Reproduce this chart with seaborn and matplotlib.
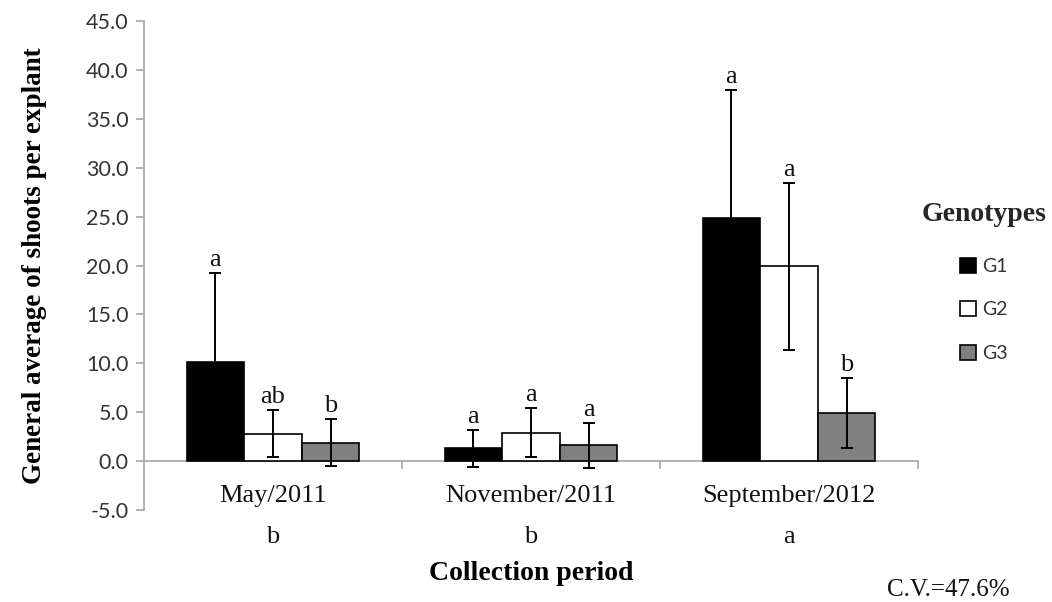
import numpy as np
import pandas as pd
import matplotlib
matplotlib.use("Agg")
import matplotlib.pyplot as plt
import seaborn as sns

# ---- data ----
periods = ["May/2011", "November/2011", "September/2012"]
genotypes = ["G1", "G2", "G3"]
g1_mean = [10.1, 1.3, 24.9]
g2_mean = [2.8, 2.9, 19.9]
g3_mean = [1.9, 1.6, 4.9]
g1_sd = [9.1, 1.9, 13.0]
g2_sd = [2.4, 2.5, 8.5]
g3_sd = [2.4, 2.3, 3.6]
g1_letters = ["a", "a", "a"]
g2_letters = ["ab", "a", "a"]
g3_letters = ["b", "a", "b"]
period_letters = ["b", "b", "a"]
cv_text = "C.V.=47.6%"
yticks = [-5, 0, 5, 10, 15, 20, 25, 30, 35, 40, 45]

means = {"G1": g1_mean, "G2": g2_mean, "G3": g3_mean}
sds = {"G1": g1_sd, "G2": g2_sd, "G3": g3_sd}
letters = {"G1": g1_letters, "G2": g2_letters, "G3": g3_letters}

rows = []
for g in genotypes:
    for p, m in zip(periods, means[g]):
        rows.append({"period": p, "genotype": g, "value": m})
df = pd.DataFrame(rows)

SERIF = "Liberation Serif"
SANS = "Lato"
GRAY = "#a6a6a6"

sns.set_theme(style="white")
plt.rcParams["font.family"] = [SERIF, "DejaVu Serif"]

fig = plt.figure(figsize=(10.52, 6.02), dpi=100)
ax = fig.add_axes([144 / 1052, 1 - 510 / 602, (918 - 144) / 1052, (510 - 21) / 602])

palette = {"G1": "black", "G2": "white", "G3": "#808080"}
sns.barplot(data=df, x="period", y="value", hue="genotype", order=periods,
            hue_order=genotypes, palette=palette, edgecolor="black",
            linewidth=1.2, width=0.67, errorbar=None, ax=ax, zorder=3)

bar_containers = list(ax.containers)

# error bars and letters
for g, cont in zip(genotypes, bar_containers):
    for bar, m, s, lt in zip(cont.patches, means[g], sds[g], letters[g]):
        xc = bar.get_x() + bar.get_width() / 2
        ax.errorbar(xc, m, yerr=s, fmt="none", ecolor="black", elinewidth=1.4,
                    capsize=4.5, capthick=1.4, zorder=4)
        ax.annotate(lt, (xc, m + s), xytext=(0, 1.5), textcoords="offset points",
                    ha="center", va="bottom", fontsize=19, family=SERIF, color="#111111")

ax.set_xlim(-0.5, 2.5)
ax.set_ylim(-5, 45)
ax.set_yticks(yticks)
ax.set_yticklabels([f"{v:.1f}" for v in yticks], family=SANS, fontsize=15.5, color="#333333")

for sp in ["top", "right"]:
    ax.spines[sp].set_visible(False)
ax.spines["left"].set_color(GRAY)
ax.spines["left"].set_linewidth(1.2)
ax.spines["bottom"].set_position(("data", 0))
ax.spines["bottom"].set_color(GRAY)
ax.spines["bottom"].set_linewidth(1.2)
ax.spines["bottom"].set_zorder(2)

ax.tick_params(axis="y", which="major", direction="out", length=6, width=1.2,
               color=GRAY, left=True, pad=5)
ax.set_xticks(range(len(periods)))
ax.set_xticklabels(periods, family=SERIF, fontsize=19, color="#111111")
ax.tick_params(axis="x", which="major", length=0, pad=17, bottom=True)
ax.set_xticks([0.5, 1.5, 2.5], minor=True)
ax.tick_params(axis="x", which="minor", direction="out", length=6, width=1.2,
               color=GRAY, bottom=True)

# letters under periods
trans = ax.get_xaxis_transform()
for i, lt in enumerate(period_letters):
    ax.text(i, -0.055, lt, transform=trans, ha="center", va="center",
            fontsize=19, family=SERIF, color="#111111")

ax.set_xlabel("Collection period", fontsize=20, fontweight="bold", family=SERIF,
              va="center", color="black")
ax.xaxis.set_label_coords(0.5, -0.129)
ax.set_ylabel("General average of shoots per explant", fontsize=19.5,
              fontweight="bold", family=SERIF, va="center", color="black")
ax.yaxis.set_label_coords(-0.141, 0.5)

# legend
if ax.get_legend() is not None:
    ax.get_legend().remove()
handles = [c.patches[0] for c in bar_containers]
leg = fig.legend(handles, genotypes, title="Genotypes", loc="center",
                 bbox_to_anchor=(984 / 1052, 1 - 282 / 602), frameon=False,
                 prop={"family": SANS, "size": 14}, handlelength=0.8,
                 handleheight=0.8, handletextpad=0.3, labelspacing=1.35)
leg.get_title().set_fontfamily(SERIF)
leg.get_title().set_fontweight("bold")
leg.get_title().set_fontsize(20)
leg._legend_box.sep = 22
for t in leg.get_texts():
    t.set_color("#333333")

fig.text(948 / 1052, 1 - 590 / 602, cv_text, ha="center", va="center",
         fontsize=18, family=SERIF, color="#111111")

fig.savefig("out.png", dpi=100)
